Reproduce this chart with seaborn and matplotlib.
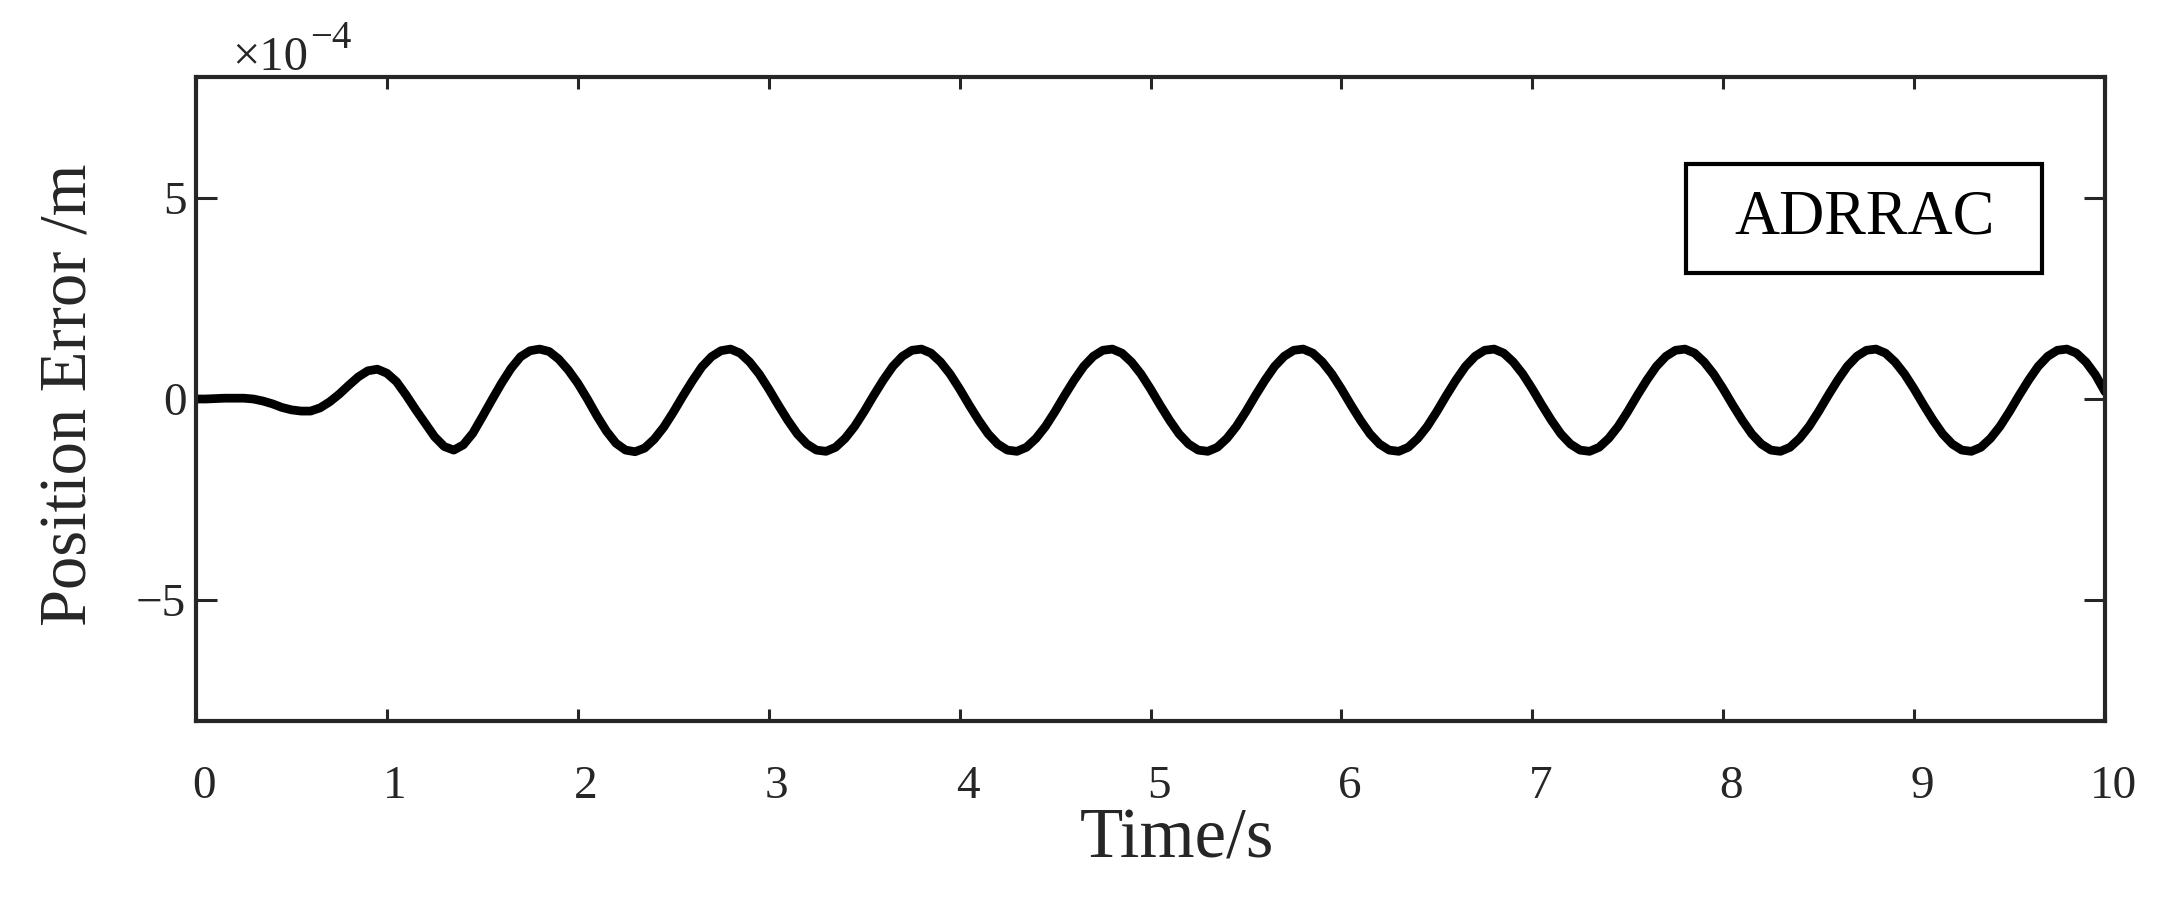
import numpy as np
import pandas as pd
import seaborn as sns
import matplotlib.pyplot as plt
import matplotlib.transforms as mtransforms
from matplotlib.patches import Rectangle

# sample times (s), one value every 0.05 s
time_step = 0.05
time_end = 10.0

# position error in units of 1e-4 m, one row per second
err_0 = [0.00, 0.00, 0.01, 0.02, 0.02, 0.02, 0.00, -0.05, -0.12, -0.21,
         -0.27, -0.30, -0.30, -0.22, -0.07, 0.12, 0.34, 0.55, 0.70, 0.74]
err_1 = [0.64, 0.43, 0.10, -0.26, -0.60, -0.94, -1.18, -1.27, -1.14, -0.85,
         -0.44, -0.02, 0.39, 0.76, 1.05, 1.20, 1.24, 1.18, 0.99, 0.72]
err_2 = [0.39, 0.00, -0.42, -0.80, -1.10, -1.27, -1.31, -1.22, -1.00, -0.70,
         -0.33, 0.07, 0.45, 0.80, 1.05, 1.20, 1.24, 1.14, 0.92, 0.62]
err_3 = [0.25, -0.15, -0.53, -0.87, -1.12, -1.27, -1.30, -1.20, -0.98, -0.68,
         -0.31, 0.09, 0.47, 0.81, 1.06, 1.21, 1.24, 1.14, 0.92, 0.62]
err_4 = [0.25, -0.15, -0.53, -0.87, -1.12, -1.27, -1.30, -1.20, -0.98, -0.68,
         -0.31, 0.09, 0.47, 0.81, 1.06, 1.21, 1.24, 1.14, 0.92, 0.62]
err_5 = [0.25, -0.15, -0.53, -0.87, -1.12, -1.27, -1.30, -1.20, -0.98, -0.68,
         -0.31, 0.09, 0.47, 0.81, 1.06, 1.21, 1.24, 1.14, 0.92, 0.62]
err_6 = [0.25, -0.15, -0.53, -0.87, -1.12, -1.27, -1.30, -1.20, -0.98, -0.68,
         -0.31, 0.09, 0.47, 0.81, 1.06, 1.21, 1.24, 1.14, 0.92, 0.62]
err_7 = [0.25, -0.15, -0.53, -0.87, -1.12, -1.27, -1.30, -1.20, -0.98, -0.68,
         -0.31, 0.09, 0.47, 0.81, 1.06, 1.21, 1.24, 1.14, 0.92, 0.62]
err_8 = [0.25, -0.15, -0.53, -0.87, -1.12, -1.27, -1.30, -1.20, -0.98, -0.68,
         -0.31, 0.09, 0.47, 0.81, 1.06, 1.21, 1.24, 1.14, 0.92, 0.62]
err_9 = [0.25, -0.15, -0.53, -0.87, -1.12, -1.27, -1.30, -1.20, -0.98, -0.68,
         -0.31, 0.09, 0.47, 0.81, 1.06, 1.21, 1.24, 1.14, 0.92, 0.60]
err_end = [0.18]

x_ticks = [0, 1, 2, 3, 4, 5, 6, 7, 8, 9, 10]
y_ticks = [-5, 0, 5]
legend_label = 'ADRRAC'

errors = (err_0 + err_1 + err_2 + err_3 + err_4 + err_5 + err_6 + err_7
          + err_8 + err_9 + err_end)
time = np.round(np.arange(0, time_end + time_step / 2, time_step), 2)
df = pd.DataFrame({'time': time, 'error': errors})

sns.set_style('ticks')
plt.rcParams['font.family'] = ['Liberation Serif', 'DejaVu Serif']

GREY = '#262626'

fig = plt.figure(figsize=(21.71, 9.02), dpi=100)
ax = fig.add_axes([0.0903, 0.2007, 0.8793, 0.7139])

sns.lineplot(x='time', y='error', data=df, ax=ax, color='black',
             linewidth=6.3, solid_joinstyle='round', solid_capstyle='round')

ax.set_xlim(0, 10)
ax.set_ylim(-8, 8)
ax.set_xticks(x_ticks)
ax.set_yticks(y_ticks)

for side in ['left', 'right', 'top', 'bottom']:
    ax.spines[side].set_visible(True)
    ax.spines[side].set_linewidth(3)
    ax.spines[side].set_color(GREY)

ax.tick_params(axis='both', direction='in', top=True, right=True,
               width=2.2, color=GREY, labelcolor=GREY, labelsize=34)
ax.tick_params(axis='x', length=8.5, pad=32)
ax.tick_params(axis='y', length=15, pad=7)

# x tick labels sit a little right of their ticks in the original
shift = mtransforms.ScaledTranslation(0.08, 0, fig.dpi_scale_trans)
for lab in ax.get_xticklabels():
    lab.set_transform(lab.get_transform() + shift)

ax.set_xlabel('Time/s', fontsize=51, color=GREY)
ax.set_ylabel('Position Error /m', fontsize=48, color=GREY)
ax.xaxis.set_label_coords(0.514, -0.135)
ax.yaxis.set_label_coords(-0.05, 0.506)

# axis multiplier
ax.text(0.0189, 1.0109, '\u00d710', transform=ax.transAxes,
        fontsize=35, color=GREY, ha='left', va='baseline')
ax.text(0.0597, 1.045, '\u22124', transform=ax.transAxes,
        fontsize=28, color=GREY, ha='left', va='baseline')

box = Rectangle((0.7805, 0.6957), 0.1865, 0.1693, transform=ax.transAxes,
                facecolor='white', edgecolor='black', linewidth=3, zorder=5)
ax.add_patch(box)
ax.text(0.8738, 0.780, legend_label, transform=ax.transAxes, fontsize=45,
        color='black', ha='center', va='center', zorder=6)

fig.savefig('out.png', dpi=100)
